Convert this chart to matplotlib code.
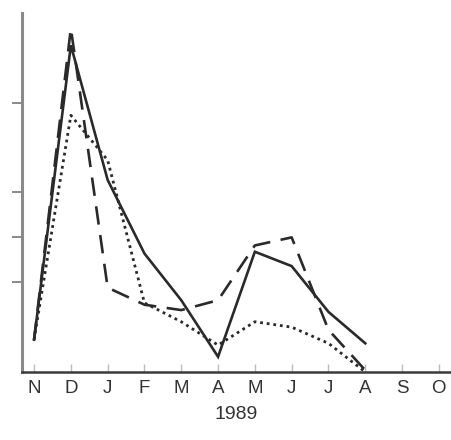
import matplotlib
matplotlib.use('Agg')
import matplotlib.pyplot as plt

# monthly series, Nov 1988 - Oct 1989
months = ['N', 'D', 'J', 'F', 'M', 'A', 'M', 'J', 'J', 'A', 'S', 'O']
series_solid = [0.36, 3.64, 2.14, 1.32, 0.80, 0.17, 1.34, 1.18, 0.67, 0.32]
series_dashed = [0.36, 3.83, 0.94, 0.75, 0.69, 0.80, 1.41, 1.50, 0.47, 0.02]
series_dotted = [0.36, 2.86, 2.36, 0.77, 0.56, 0.30, 0.56, 0.50, 0.32, 0.0]
y_ticks = [1, 1.5, 2, 3]
year_label = '1989'

plt.rcParams['font.family'] = ['Liberation Sans', 'DejaVu Sans']

fig = plt.figure(figsize=(4.51, 4.40), dpi=100)
ax = fig.add_axes([0.049, 0.1545, 0.951, 0.816])

ink = '#2a2a2a'
ax.plot(range(len(series_solid)), series_solid, color=ink, lw=1.9,
        solid_joinstyle='miter', clip_on=False)
ax.plot(range(len(series_dashed)), series_dashed, color=ink, lw=1.9,
        dashes=(7, 4), clip_on=False)
ax.plot(range(len(series_dotted)), series_dotted, color=ink, lw=2.0,
        dashes=(1.0, 1.4), clip_on=False)

ax.set_xlim(-0.325, 11.33)
ax.set_ylim(0, 4)

for side in ('top', 'right'):
    ax.spines[side].set_visible(False)
ax.spines['left'].set_color('#8a8a8a')
ax.spines['left'].set_linewidth(2.2)
ax.spines['bottom'].set_color('#3a3a3a')
ax.spines['bottom'].set_linewidth(1.8)

ax.set_xticks(range(len(months)))
ax.set_xticklabels(months, fontsize=13.5, color='#333333')
ax.tick_params(axis='x', direction='in', length=6, width=1, color='#bbbbbb', pad=6)

ax.set_yticks(y_ticks)
ax.set_yticklabels([])
ax.tick_params(axis='y', direction='out', length=7, width=1.2, color='#777777')

ax.set_xlabel(year_label, fontsize=14, color='#333333', labelpad=6)

fig.savefig('out.png', dpi=100)
